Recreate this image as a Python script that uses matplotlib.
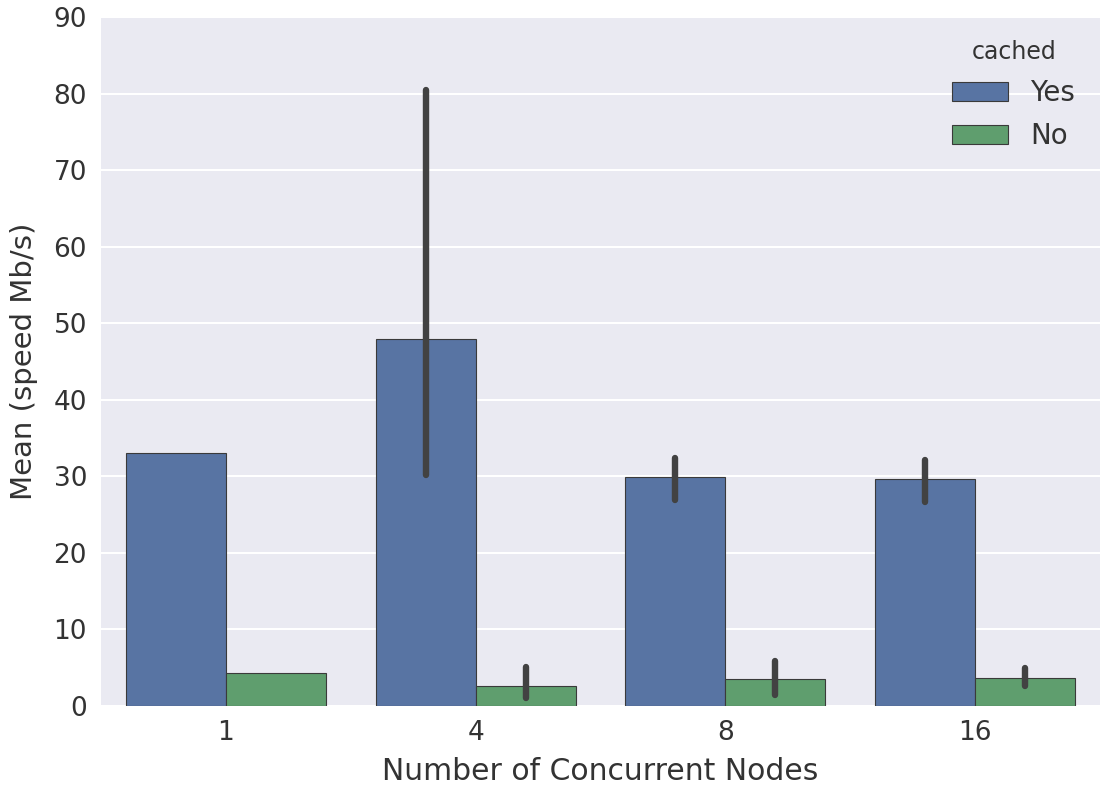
import numpy as np
import matplotlib
matplotlib.use("Agg")
import matplotlib.pyplot as plt

# values
nodes = ["1", "4", "8", "16"]
yes_mean = [33.0, 48.0, 29.9, 29.6]
yes_lo = [33.0, 30.2, 26.9, 26.6]
yes_hi = [33.0, 80.5, 32.4, 32.1]
no_mean = [4.3, 2.6, 3.5, 3.6]
no_lo = [4.3, 1.0, 1.4, 2.6]
no_hi = [4.3, 5.1, 5.9, 5.0]

plt.rcParams['font.family'] = ['DejaVu Sans']
fig = plt.figure(figsize=(11, 7.93), dpi=100)
ax = fig.add_axes([0.0918, 0.1097, 0.9082, 0.8689])
ax.set_facecolor('#EAEAF2')
for s in ax.spines.values():
    s.set_visible(False)
ax.yaxis.grid(True, color='white', linewidth=1.5)
ax.set_axisbelow(True)

x = np.arange(len(nodes))
w = 0.4
series = [("Yes", yes_mean, yes_lo, yes_hi, '#5874A3', -w / 2),
          ("No", no_mean, no_lo, no_hi, '#5F9E6E', w / 2)]
for name, mean, lo, hi, col, off in series:
    ax.bar(x + off, mean, w, color=col, edgecolor='#3a3a3a', linewidth=0.8, label=name)
    for xi, l, h in zip(x + off, lo, hi):
        if h > l:
            ax.plot([xi, xi], [l, h], color='#424242', linewidth=4.6,
                    solid_capstyle='round', zorder=3)

ax.set_xlim(-0.5, 3.5)
ax.set_ylim(0, 90)
ax.set_xticks(x)
ax.set_xticklabels(nodes)
ax.set_yticks(range(0, 91, 10))
ax.tick_params(axis='both', length=0, labelsize=19, colors='#333333', pad=10)
ax.set_xlabel("Number of Concurrent Nodes", fontsize=21.5, color='#333333', labelpad=8)
ax.set_ylabel("Mean (speed Mb/s)", fontsize=21, color='#333333', labelpad=11)

leg = ax.legend(title="cached", frameon=False, loc='upper right', fontsize=20,
                title_fontsize=17, bbox_to_anchor=(1.0, 1.003),
                handlelength=2.0, handleheight=0.7, labelspacing=0.55,
                handletextpad=0.8)
for t in leg.get_texts():
    t.set_color('#333333')
leg.get_title().set_color('#333333')

fig.savefig("out.png", dpi=100)
